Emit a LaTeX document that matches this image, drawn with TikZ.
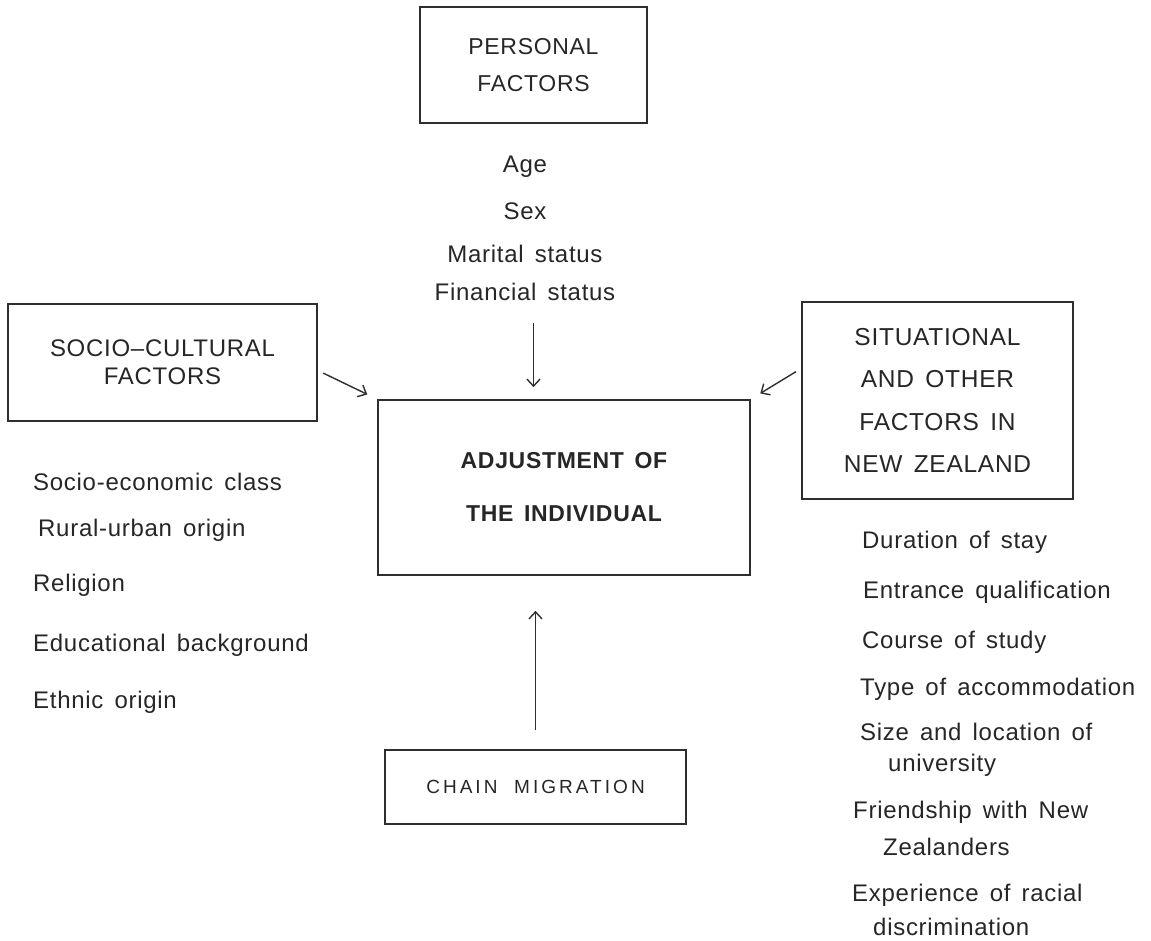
\documentclass[tikz,border=0pt]{standalone}
\usepackage{fontspec}
\setmainfont{Liberation Sans}[LetterSpace=3,WordSpace=1.5]
\newfontfamily\chainfont{Liberation Sans}[LetterSpace=16,WordSpace=2]
\usetikzlibrary{positioning,arrows.meta}

\begin{document}
\begin{tikzpicture}[
% Change style
	x=1pt, y=-1pt,
	factor/.style={draw=black!82, line width=1.7pt, text=black!85, align=center,
		inner sep=0pt, font=\fontsize{24}{37}\selectfont},
	item/.style={text=black!85, inner sep=0pt, anchor=base west,
		font=\fontsize{24}{26}\selectfont},
	post/.style={->, draw=black!82, line width=1.4pt,
		>={Straight Barb[length=7pt,width=13pt]}}]

\useasboundingbox (0,0) rectangle (1151,941);

% Personal factors
\node[factor, minimum width=227, minimum height=116,
	font=\fontsize{23}{37}\selectfont] (personal) at (533.5,65)
	{PERSONAL\\FACTORS};

% Socio-cultural factors
\node[factor, minimum width=309, minimum height=117,
	font=\fontsize{24}{28}\selectfont] (cultural) at (162.5,362.5)
	{SOCIO--CULTURAL\\FACTORS};

% Adjustment
\node[factor, minimum width=372, minimum height=175,
	font=\fontsize{23}{53}\selectfont\bfseries] (adjust) at (564,487.5)
	{ADJUSTMENT OF\\THE INDIVIDUAL};

% Situational factors
\node[factor, minimum width=271, minimum height=197,
	font=\fontsize{24.5}{42.5}\selectfont] (situation) at (937.5,400.5)
	{SITUATIONAL\\AND OTHER\\FACTORS IN\\NEW ZEALAND};

% Chain migration
\node[factor, minimum width=301, minimum height=74,
	font=\fontsize{19}{20}\chainfont] (chain) at (535.5,787)
	{CHAIN MIGRATION};

% Personal items
\foreach \yy/\txt [count=\i] in {173/Age, 220/Sex, 263/Marital status,
	301/Financial status}
	\node[item, anchor=base] (pers\i) at (525,\yy) {\txt};

% Socio-cultural items
\foreach \xx/\yy/\txt [count=\i] in {33/490/Socio-economic class,
	38/536/Rural-urban origin, 33/591/Religion,
	33/651/Educational background, 33/708/Ethnic origin}
	\node[item] (cult\i) at (\xx,\yy) {\txt};

% Situational items
\foreach \xx/\yy/\txt [count=\i] in {862/548/Duration of stay,
	863/598/Entrance qualification, 862/648/Course of study,
	860/695/Type of accommodation, 860/740/Size and location of,
	888/771/university, 853/818/Friendship with New,
	883/855/Zealanders, 852/901/Experience of racial,
	873/935/discrimination}
	\node[item] (sit\i) at (\xx,\yy) {\txt};

% Connections
\draw[post, shorten <=22pt, shorten >=12pt]
	(pers4.south -| personal.south) -- (adjust.north -| personal.south);
\draw[post, shorten <=6pt, shorten >=11pt]
	([yshift=-8pt]cultural.east) -- (adjust.north west);
\draw[post, shorten <=6pt, shorten >=11pt]
	([yshift=32pt]situation.west) -- (adjust.north east);
\draw[post, shorten <=19pt, shorten >=35pt]
	(chain.north) -- (chain.north |- adjust.south);

\end{tikzpicture}
\end{document}
